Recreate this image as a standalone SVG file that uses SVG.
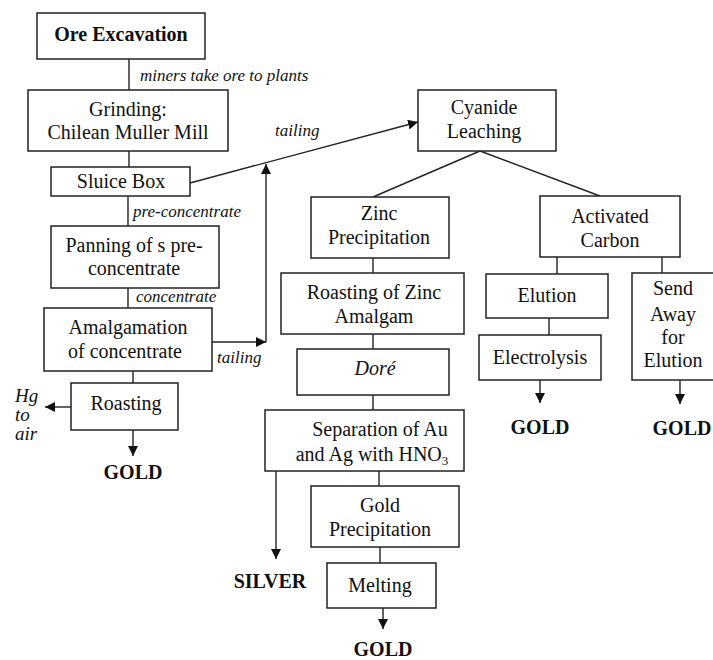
<svg xmlns="http://www.w3.org/2000/svg" width="713" height="660" viewBox="0 0 713 660">
<defs>
<marker id="ah" viewBox="0 0 10 10" refX="10" refY="5" markerWidth="10" markerHeight="10" markerUnits="userSpaceOnUse" orient="auto">
<path d="M0,0 L10,5 L0,10 z" fill="#111"/>
</marker>
</defs>
<style>
.box{fill:#fff;stroke:#222;stroke-width:1.5}
.t{font-family:'Liberation Serif','Times New Roman',Times,'DejaVu Serif',serif;font-size:20px;fill:#111;text-anchor:middle}
.b{font-family:'Liberation Serif','Times New Roman',Times,'DejaVu Serif',serif;font-size:20px;font-weight:bold;fill:#111;text-anchor:middle}
.lab{font-family:'Liberation Serif','Times New Roman',Times,'DejaVu Serif',serif;font-size:17px;font-style:italic;fill:#111}
.hg{font-size:19px}
.c{stroke:#222;stroke-width:1.4;fill:none}
.a{stroke:#222;stroke-width:1.4;fill:none;marker-end:url(#ah)}
</style>
<rect width="713" height="660" fill="#fff"/>
<g id="connectors">
<line class="c" x1="129" y1="59" x2="129" y2="90"/>
<line class="c" x1="129" y1="151" x2="129" y2="167"/>
<line class="c" x1="128" y1="196" x2="128" y2="226"/>
<line class="c" x1="128" y1="288" x2="128" y2="308"/>
<line class="c" x1="133" y1="371" x2="133" y2="383"/>
<line class="a" x1="71" y1="407" x2="45" y2="407"/>
<line class="a" x1="133" y1="430" x2="133" y2="456"/>
<line class="a" x1="190" y1="183" x2="418" y2="122"/>
<line class="a" x1="210" y1="342" x2="266" y2="342"/>
<line class="a" x1="266" y1="342" x2="266" y2="164"/>
<line class="c" x1="480" y1="151" x2="373" y2="197"/>
<line class="c" x1="480" y1="151" x2="600" y2="196"/>
<line class="c" x1="373" y1="258" x2="373" y2="273"/>
<line class="c" x1="373" y1="334" x2="373" y2="349"/>
<line class="c" x1="373" y1="395" x2="373" y2="410"/>
<line class="a" x1="276" y1="471" x2="276" y2="559"/>
<line class="c" x1="379" y1="471" x2="379" y2="486"/>
<line class="c" x1="380" y1="547" x2="380" y2="563"/>
<line class="a" x1="383" y1="608" x2="383" y2="629"/>
<line class="c" x1="557" y1="257" x2="557" y2="274"/>
<line class="c" x1="662" y1="257" x2="662" y2="273"/>
<line class="c" x1="549" y1="318" x2="549" y2="335"/>
<line class="a" x1="540" y1="380" x2="540" y2="403"/>
<line class="a" x1="680" y1="380" x2="680" y2="404"/>
</g>
<g id="labels">
<text class="lab" x="140" y="81">miners take ore to plants</text>
<text class="lab" x="275" y="136">tailing</text>
<text class="lab" x="133" y="217">pre-concentrate</text>
<text class="lab" x="136" y="302">concentrate</text>
<text class="lab" x="217" y="363">tailing</text>
<text class="lab hg" x="15" y="402">Hg</text>
<text class="lab hg" x="15" y="421">to</text>
<text class="lab hg" x="15" y="440">air</text>
</g>
<g id="ore-excavation"><rect class="box" x="37" y="13" width="168" height="46"/><text class="b" x="121" y="41">Ore Excavation</text></g>
<g id="grinding"><rect class="box" x="28" y="90" width="200" height="61"/><text class="t" x="128" y="116">Grinding:</text><text class="t" x="128" y="139">Chilean Muller Mill</text></g>
<g id="sluice-box"><rect class="box" x="51" y="167" width="139" height="29"/><text class="t" x="121" y="188">Sluice Box</text></g>
<g id="panning"><rect class="box" x="51" y="226" width="168" height="62"/><text class="t" x="134" y="252">Panning of s pre-</text><text class="t" x="134" y="275">concentrate</text></g>
<g id="amalgamation"><rect class="box" x="44" y="308" width="168" height="63"/><text class="t" x="128" y="334">Amalgamation</text><text class="t" x="125" y="358">of concentrate</text></g>
<g id="roasting"><rect class="box" x="71" y="383" width="107" height="47"/><text class="t" x="126" y="410">Roasting</text></g>
<g id="gold-1"><text class="b" x="133" y="479">GOLD</text></g>
<g id="cyanide-leaching"><rect class="box" x="418" y="90" width="138" height="61"/><text class="t" x="484" y="114">Cyanide</text><text class="t" x="484" y="138">Leaching</text></g>
<g id="zinc-precipitation"><rect class="box" x="311" y="197" width="138" height="61"/><text class="t" x="379" y="220">Zinc</text><text class="t" x="379" y="244">Precipitation</text></g>
<g id="roasting-zinc"><rect class="box" x="281" y="273" width="183" height="61"/><text class="t" x="374" y="299">Roasting of Zinc</text><text class="t" x="374" y="323">Amalgam</text></g>
<g id="dore"><rect class="box" x="297" y="349" width="152" height="46"/><text class="t" x="375" y="375" font-style="italic">Doré</text></g>
<g id="separation"><rect class="box" x="265" y="410" width="199" height="61"/><text class="t" x="380" y="436">Separation of Au</text><text class="t" x="372" y="461">and Ag with HNO<tspan font-size="13" dy="4">3</tspan></text></g>
<g id="silver"><text class="b" x="270" y="588">SILVER</text></g>
<g id="gold-precipitation"><rect class="box" x="311" y="486" width="148" height="61"/><text class="t" x="380" y="512">Gold</text><text class="t" x="380" y="536">Precipitation</text></g>
<g id="melting"><rect class="box" x="327" y="563" width="109" height="45"/><text class="t" x="380" y="592">Melting</text></g>
<g id="gold-2"><text class="b" x="383" y="656">GOLD</text></g>
<g id="activated-carbon"><rect class="box" x="540" y="196" width="140" height="61"/><text class="t" x="610" y="223">Activated</text><text class="t" x="610" y="247">Carbon</text></g>
<g id="elution"><rect class="box" x="486" y="274" width="122" height="44"/><text class="t" x="547" y="302">Elution</text></g>
<g id="electrolysis"><rect class="box" x="479" y="335" width="122" height="45"/><text class="t" x="540" y="364">Electrolysis</text></g>
<g id="gold-3"><text class="b" x="540" y="434">GOLD</text></g>
<g id="send-away"><rect class="box" x="632" y="273" width="90" height="107"/><text class="t" x="673" y="295">Send</text><text class="t" x="673" y="321">Away</text><text class="t" x="673" y="344">for</text><text class="t" x="673" y="367">Elution</text></g>
<g id="gold-4"><text class="b" x="682" y="435">GOLD</text></g>
</svg>
